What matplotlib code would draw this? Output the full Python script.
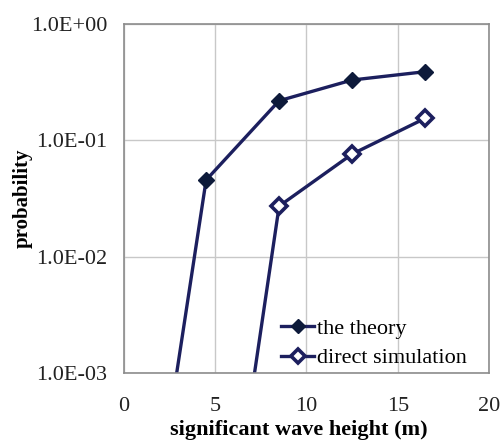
import numpy as np
import matplotlib
matplotlib.use('Agg')
import matplotlib.pyplot as plt
from matplotlib.ticker import FixedLocator, FuncFormatter

plt.rcParams['font.family'] = ['Liberation Serif', 'DejaVu Serif']

# data
wave_theory = [0.5, 4.5, 8.5, 12.5, 16.5]
prob_theory = [3.5e-6, 0.0456, 0.219, 0.33, 0.389]

wave_sim = [4.5, 8.5, 12.5, 16.5]
prob_sim = [1.5e-6, 0.0272, 0.0762, 0.1545]

navy = '#1c1f5e'

fig = plt.figure(figsize=(5.02, 4.41), dpi=100)
ax = fig.add_axes([124/502, 1 - 373/441, (489-124)/502, (373-24)/441])

ax.plot(wave_theory, prob_theory, color=navy, lw=2.4, marker='D', ms=8.5,
        mfc='#0d1a3a', mec='#0d1a3a', label='the theory')
ax.plot(wave_sim, prob_sim, color=navy, lw=2.4, marker='D', ms=8.5,
        mfc='white', mec=navy, mew=2.6, label='direct simulation')

ax.set_yscale('log')
ax.set_xlim(0, 20)
ax.set_ylim(1e-3, 1)
ax.set_xticks([0, 5, 10, 15, 20])
ax.yaxis.set_major_locator(FixedLocator([1e-3, 1e-2, 1e-1, 1]))
ax.yaxis.set_minor_locator(FixedLocator([]))
ax.yaxis.set_major_formatter(FuncFormatter(
    lambda v, p: '1.0E%+03d' % int(round(np.log10(v)))))
ax.tick_params(length=0, labelsize=16, colors='#222222')
ax.tick_params(axis='x', pad=17)
ax.tick_params(axis='y', pad=12)
ax.grid(True, color='#c8c8c8', lw=1)
ax.set_axisbelow(True)
for s in ax.spines.values():
    s.set_color('#8c8c8c')
    s.set_linewidth(1.2)

ax.set_xlabel('significant wave height (m)', fontsize=16, fontweight='bold', labelpad=0)
ax.xaxis.set_label_coords(0.48, -0.135)
ax.set_ylabel('probability', fontsize=15, fontweight='bold')
ax.yaxis.set_label_coords(-0.25, 0.5)

leg = ax.legend(loc='lower right', bbox_to_anchor=(0.975, -0.025), frameon=False,
                fontsize=16, handlelength=1.5, handletextpad=0.1, labelspacing=0.4,
                borderaxespad=0.2)
for h in leg.legend_handles:
    h.set_markersize(7)

fig.savefig('out.png', dpi=100)
